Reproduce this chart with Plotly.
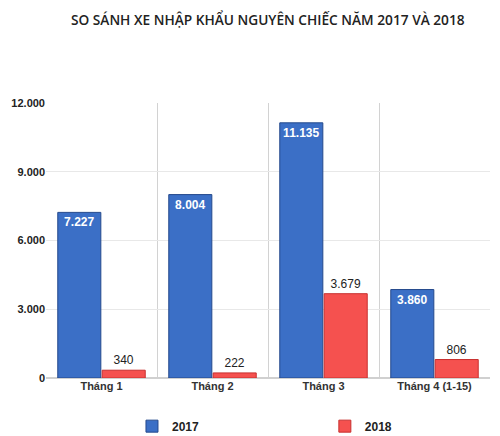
import plotly.graph_objects as go

months = ["Tháng 1", "Tháng 2", "Tháng 3", "Tháng 4 (1-15)"]
xe_2017 = [7227, 8004, 11135, 3860]
xe_2018 = [340, 222, 3679, 806]
y_ticks = [0, 3000, 6000, 9000, 12000]

fig = go.Figure()

fig.add_trace(go.Bar(
    x=months, y=xe_2017, name="2017", legend="legend",
    marker=dict(color="#3b6fc6", line=dict(color="#24498c", width=1)),
    texttemplate="%{y:,.0f}", textposition="inside", insidetextanchor="end",
    textangle=0,
    textfont=dict(color="white", size=12, family="Liberation Sans", weight="bold"),
    cliponaxis=False,
))
fig.add_trace(go.Bar(
    x=months, y=xe_2018, name="2018", legend="legend2",
    marker=dict(color="#f5514f", line=dict(color="#c8302f", width=1)),
    texttemplate="%{y:,.0f}", textposition="outside", textangle=0,
    textfont=dict(color="#222222", size=12, family="Liberation Sans"),
    cliponaxis=False,
))

legend_style = dict(
    orientation="h", xanchor="left", y=0.023, yanchor="middle",
    xref="container", yref="container",
    bgcolor="rgba(0,0,0,0)",
    font=dict(size=12, color="#222222", family="Liberation Sans", weight="bold"),
)

# page body has an 8px margin, so the figure is a bit smaller than the window
fig.update_layout(
    width=492, height=428,
    margin=dict(l=38, r=10, t=95, b=58),
    paper_bgcolor="white", plot_bgcolor="white",
    separators=",.",
    barmode="group", bargap=0.2, bargroupgap=0.03,
    title=dict(
        text="SO SÁNH XE NHẬP KHẨU NGUYÊN CHIẾC NĂM 2017 VÀ 2018",
        x=0.528, xanchor="center", y=0.982, yanchor="top",
        font=dict(family="Open Sans", size=13.7, color="#222222", weight=600),
    ),
    font=dict(family="Liberation Sans", color="#222222"),
    showlegend=True,
    legend=dict(legend_style, x=0.252),
    legend2=dict(legend_style, x=0.644),
)

fig.update_xaxes(
    type="category", tickson="boundaries", ticks="",
    showgrid=True, gridcolor="#d2d2d2", gridwidth=1,
    showline=False, automargin=False,
    tickfont=dict(size=11, color="#333333", family="Liberation Sans", weight="bold"),
)
fig.update_yaxes(
    range=[0, 12000], tickvals=y_ticks, tickformat=",.0f",
    showgrid=True, gridcolor="#e8e8e8", gridwidth=1,
    zeroline=True, zerolinecolor="#d0d0d0", zerolinewidth=2,
    ticks="", ticklen=0, automargin=False,
    tickfont=dict(size=11, color="#222222", family="Liberation Sans", weight="bold"),
)

fig.write_html("out.html")
